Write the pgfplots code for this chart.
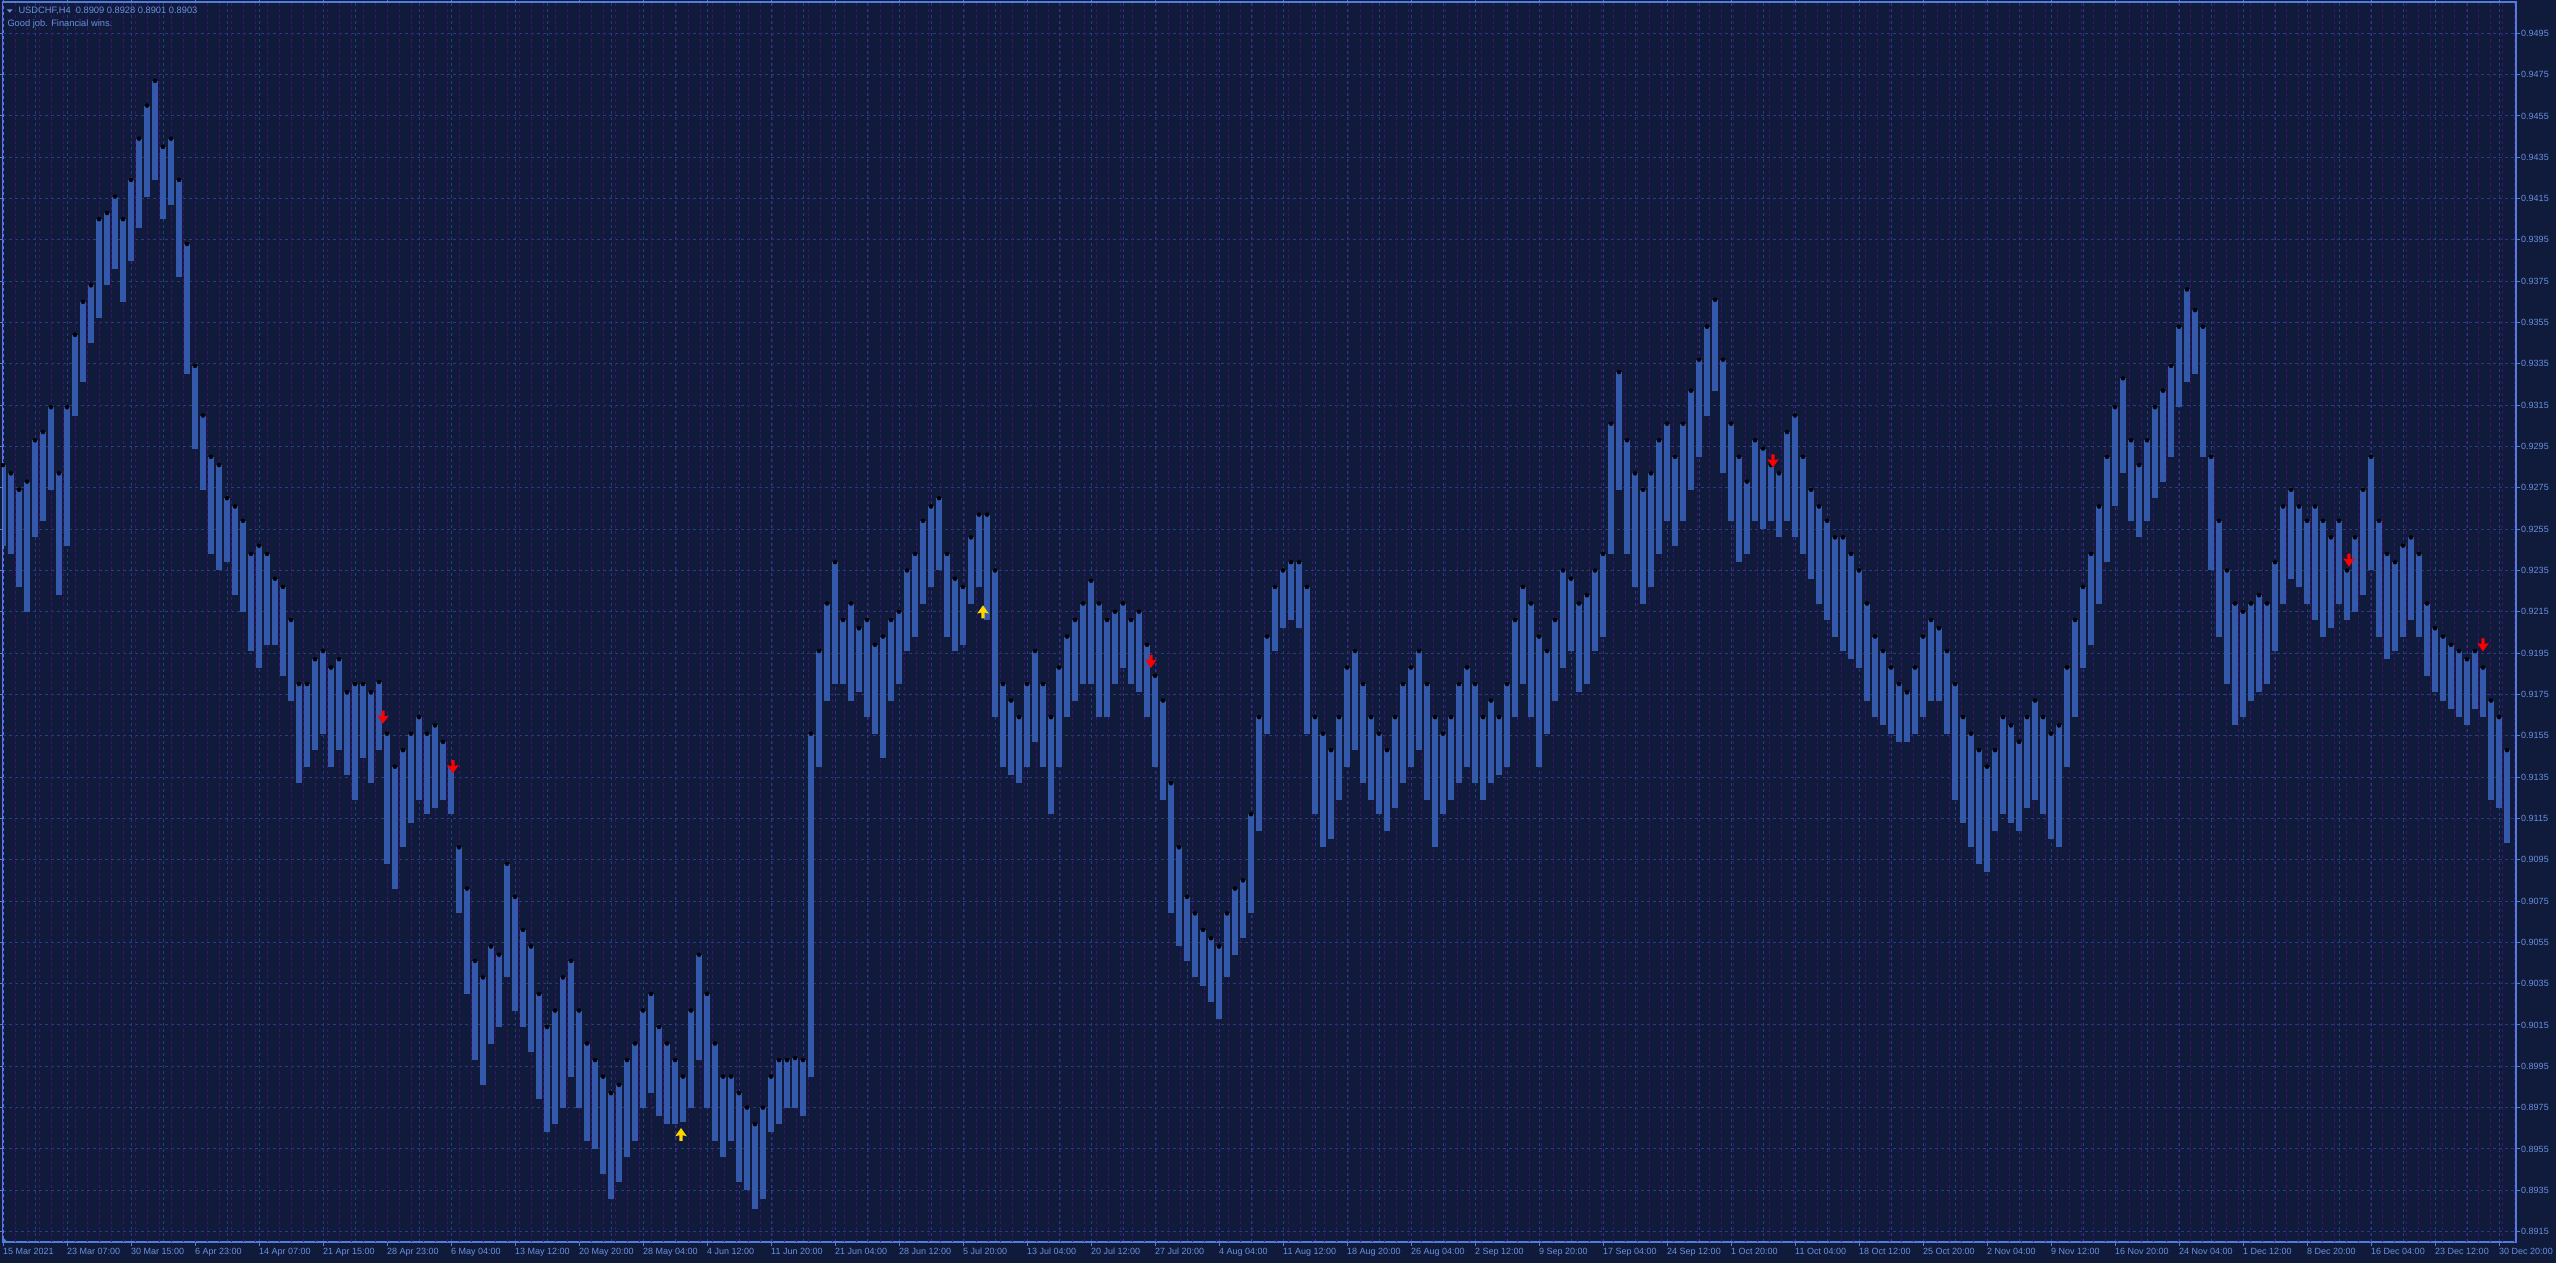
\documentclass[border=0pt]{standalone}
\usepackage{fontspec}
\setmainfont{Liberation Sans}
\usepackage{pgfplots}
\usepackage{pgfplotstable}
\pgfplotsset{compat=1.18}
\definecolor{bg}{RGB}{16,26,58}
\definecolor{gridblue}{RGB}{38,62,125}
\definecolor{gridpurple}{RGB}{72,14,118}
\definecolor{border}{RGB}{80,125,215}
\definecolor{txt}{RGB}{105,145,225}
\definecolor{barcol}{RGB}{52,88,170}
\definecolor{arrowred}{RGB}{255,0,0}
\definecolor{arrowyel}{RGB}{255,215,0}
\pgfdeclareplotmark{mtdown}{%
\pgfpathmoveto{\pgfqpoint{-1.7pt}{6.5pt}}%
\pgfpathlineto{\pgfqpoint{1.7pt}{6.5pt}}%
\pgfpathlineto{\pgfqpoint{1.7pt}{0.8pt}}%
\pgfpathlineto{\pgfqpoint{5.8pt}{1.8pt}}%
\pgfpathlineto{\pgfqpoint{0pt}{-6.5pt}}%
\pgfpathlineto{\pgfqpoint{-5.8pt}{1.8pt}}%
\pgfpathlineto{\pgfqpoint{-1.7pt}{0.8pt}}%
\pgfpathclose\pgfusepathqfill}
\pgfdeclareplotmark{mtup}{%
\pgfpathmoveto{\pgfqpoint{-1.7pt}{-6.5pt}}%
\pgfpathlineto{\pgfqpoint{1.7pt}{-6.5pt}}%
\pgfpathlineto{\pgfqpoint{1.7pt}{-0.8pt}}%
\pgfpathlineto{\pgfqpoint{5.8pt}{-1.8pt}}%
\pgfpathlineto{\pgfqpoint{0pt}{6.5pt}}%
\pgfpathlineto{\pgfqpoint{-5.8pt}{-1.8pt}}%
\pgfpathlineto{\pgfqpoint{-1.7pt}{-0.8pt}}%
\pgfpathclose\pgfusepathqfill}
\pgfplotstableread{
b hi lo
0 0.9286 0.9247
4 0.9282 0.9243
8 0.9274 0.9227
12 0.9278 0.9215
16 0.9298 0.9251
20 0.9302 0.9259
24 0.9314 0.9274
28 0.9282 0.9223
32 0.9314 0.9247
36 0.9349 0.9310
40 0.9365 0.9326
44 0.9373 0.9345
48 0.9405 0.9357
52 0.9408 0.9373
56 0.9416 0.9381
60 0.9405 0.9365
64 0.9424 0.9385
68 0.9444 0.9401
72 0.9460 0.9416
76 0.9472 0.9424
80 0.9440 0.9405
84 0.9444 0.9412
88 0.9424 0.9377
92 0.9393 0.9330
96 0.9334 0.9294
100 0.9310 0.9274
104 0.9290 0.9243
108 0.9286 0.9235
112 0.9270 0.9239
116 0.9266 0.9223
120 0.9259 0.9215
124 0.9243 0.9196
128 0.9247 0.9188
132 0.9243 0.9199
136 0.9231 0.9199
140 0.9227 0.9184
144 0.9211 0.9172
148 0.9180 0.9132
152 0.9180 0.9140
156 0.9192 0.9148
160 0.9196 0.9156
164 0.9188 0.9140
168 0.9192 0.9148
172 0.9176 0.9136
176 0.9180 0.9124
180 0.9180 0.9144
184 0.9176 0.9132
188 0.9181 0.9148
192 0.9156 0.9093
196 0.9140 0.9081
200 0.9148 0.9101
204 0.9156 0.9113
208 0.9164 0.9124
212 0.9156 0.9117
216 0.9160 0.9120
220 0.9152 0.9124
224 0.9140 0.9117
228 0.9101 0.9069
232 0.9081 0.9030
236 0.9046 0.8998
240 0.9038 0.8986
244 0.9053 0.9006
248 0.9049 0.9014
252 0.9093 0.9038
256 0.9077 0.9022
260 0.9061 0.9014
264 0.9053 0.9002
268 0.9030 0.8979
272 0.9014 0.8963
276 0.9022 0.8967
280 0.9038 0.8975
284 0.9046 0.8990
288 0.9022 0.8975
292 0.9006 0.8959
296 0.8998 0.8955
300 0.8990 0.8943
304 0.8982 0.8931
308 0.8986 0.8939
312 0.8998 0.8951
316 0.9006 0.8959
320 0.9022 0.8975
324 0.9030 0.8982
328 0.9014 0.8971
332 0.9006 0.8967
336 0.8998 0.8967
340 0.8990 0.8968
344 0.9022 0.8975
348 0.9049 0.8998
352 0.9030 0.8975
356 0.9006 0.8959
360 0.8990 0.8951
364 0.8990 0.8959
368 0.8982 0.8939
372 0.8975 0.8935
376 0.8967 0.8926
380 0.8975 0.8931
384 0.8990 0.8963
388 0.8998 0.8967
392 0.8998 0.8975
396 0.8999 0.8975
400 0.8998 0.8971
404 0.9156 0.8990
408 0.9196 0.9140
412 0.9219 0.9172
416 0.9239 0.9180
420 0.9211 0.9180
424 0.9219 0.9172
428 0.9207 0.9176
432 0.9211 0.9164
436 0.9199 0.9156
440 0.9203 0.9144
444 0.9211 0.9172
448 0.9215 0.9180
452 0.9235 0.9196
456 0.9243 0.9203
460 0.9259 0.9219
464 0.9266 0.9227
468 0.9270 0.9235
472 0.9243 0.9203
476 0.9231 0.9196
480 0.9227 0.9199
484 0.9251 0.9219
488 0.9262 0.9227
492 0.9262 0.9211
496 0.9235 0.9164
500 0.9180 0.9140
504 0.9172 0.9136
508 0.9164 0.9132
512 0.9180 0.9140
516 0.9196 0.9152
520 0.9180 0.9140
524 0.9164 0.9117
528 0.9188 0.9140
532 0.9203 0.9164
536 0.9211 0.9172
540 0.9219 0.9180
544 0.9230 0.9180
548 0.9219 0.9164
552 0.9211 0.9164
556 0.9215 0.9180
560 0.9219 0.9188
564 0.9211 0.9180
568 0.9215 0.9176
572 0.9199 0.9164
576 0.9184 0.9140
580 0.9172 0.9124
584 0.9132 0.9069
588 0.9101 0.9053
592 0.9077 0.9046
596 0.9069 0.9038
600 0.9061 0.9034
604 0.9057 0.9026
608 0.9053 0.9018
612 0.9069 0.9038
616 0.9081 0.9049
620 0.9085 0.9057
624 0.9117 0.9069
628 0.9164 0.9109
632 0.9203 0.9156
636 0.9227 0.9196
640 0.9235 0.9207
644 0.9239 0.9211
648 0.9239 0.9207
652 0.9227 0.9156
656 0.9164 0.9117
660 0.9156 0.9101
664 0.9148 0.9105
668 0.9164 0.9124
672 0.9188 0.9140
676 0.9196 0.9148
680 0.9180 0.9132
684 0.9164 0.9124
688 0.9156 0.9117
692 0.9148 0.9109
696 0.9164 0.9120
700 0.9180 0.9132
704 0.9188 0.9140
708 0.9196 0.9148
712 0.9180 0.9124
716 0.9164 0.9101
720 0.9156 0.9117
724 0.9164 0.9124
728 0.9180 0.9132
732 0.9188 0.9140
736 0.9180 0.9132
740 0.9164 0.9124
744 0.9172 0.9132
748 0.9164 0.9136
752 0.9180 0.9140
756 0.9211 0.9164
760 0.9227 0.9180
764 0.9219 0.9164
768 0.9203 0.9140
772 0.9196 0.9156
776 0.9211 0.9172
780 0.9235 0.9188
784 0.9231 0.9196
788 0.9219 0.9176
792 0.9223 0.9180
796 0.9235 0.9196
800 0.9243 0.9203
804 0.9306 0.9243
808 0.9331 0.9274
812 0.9298 0.9243
816 0.9282 0.9227
820 0.9274 0.9219
824 0.9282 0.9227
828 0.9298 0.9243
832 0.9306 0.9259
836 0.9290 0.9247
840 0.9306 0.9259
844 0.9322 0.9274
848 0.9337 0.9290
852 0.9353 0.9310
856 0.9366 0.9322
860 0.9337 0.9282
864 0.9306 0.9259
868 0.9290 0.9239
872 0.9278 0.9243
876 0.9298 0.9259
880 0.9294 0.9255
884 0.9286 0.9259
888 0.9282 0.9251
892 0.9302 0.9259
896 0.9310 0.9251
900 0.9290 0.9243
904 0.9274 0.9231
908 0.9266 0.9219
912 0.9259 0.9211
916 0.9251 0.9203
920 0.9251 0.9196
924 0.9243 0.9192
928 0.9235 0.9188
932 0.9219 0.9172
936 0.9203 0.9164
940 0.9196 0.9160
944 0.9188 0.9156
948 0.9180 0.9152
952 0.9176 0.9152
956 0.9188 0.9156
960 0.9203 0.9164
964 0.9211 0.9172
968 0.9207 0.9172
972 0.9196 0.9156
976 0.9180 0.9124
980 0.9164 0.9113
984 0.9156 0.9101
988 0.9148 0.9093
992 0.9140 0.9089
996 0.9148 0.9109
1000 0.9164 0.9117
1004 0.9160 0.9113
1008 0.9152 0.9109
1012 0.9164 0.9120
1016 0.9172 0.9124
1020 0.9164 0.9117
1024 0.9156 0.9105
1028 0.9160 0.9101
1032 0.9188 0.9140
1036 0.9211 0.9164
1040 0.9227 0.9188
1044 0.9243 0.9199
1048 0.9266 0.9219
1052 0.9290 0.9239
1056 0.9314 0.9266
1060 0.9328 0.9282
1064 0.9298 0.9259
1068 0.9286 0.9251
1072 0.9298 0.9259
1076 0.9314 0.9270
1080 0.9322 0.9278
1084 0.9334 0.9290
1088 0.9353 0.9314
1092 0.9371 0.9326
1096 0.9361 0.9330
1100 0.9353 0.9290
1104 0.9290 0.9235
1108 0.9259 0.9203
1112 0.9235 0.9180
1116 0.9219 0.9160
1120 0.9215 0.9164
1124 0.9219 0.9172
1128 0.9223 0.9176
1132 0.9219 0.9180
1136 0.9239 0.9196
1140 0.9266 0.9219
1144 0.9274 0.9231
1148 0.9266 0.9227
1152 0.9259 0.9219
1156 0.9266 0.9211
1160 0.9259 0.9203
1164 0.9251 0.9207
1168 0.9259 0.9219
1172 0.9235 0.9211
1176 0.9251 0.9215
1180 0.9274 0.9223
1184 0.9290 0.9235
1188 0.9259 0.9203
1192 0.9243 0.9192
1196 0.9239 0.9196
1200 0.9247 0.9203
1204 0.9251 0.9211
1208 0.9243 0.9203
1212 0.9219 0.9184
1216 0.9207 0.9176
1220 0.9203 0.9172
1224 0.9199 0.9168
1228 0.9196 0.9164
1232 0.9192 0.9160
1236 0.9196 0.9168
1240 0.9188 0.9164
1244 0.9172 0.9124
1248 0.9164 0.9120
1252 0.9148 0.9103
}\bars
\begin{document}
\begin{tikzpicture}
\useasboundingbox (-3pt,-21pt) rectangle (2553pt,1242pt);
\fill[bg] (-3pt,-21pt) rectangle (2553pt,1242pt);
\begin{axis}[
  at={(0pt,0pt)}, anchor=south west,
  scale only axis, width=2513pt, height=1240pt,
  xmin=0, xmax=1256.5, ymin=0.890996, ymax=0.951015,
  axis line style={draw=border, line width=1.2pt},
  xtick={0,32,...,1248},
  xticklabels={15 Mar 2021,23 Mar 07:00,30 Mar 15:00,6 Apr 23:00,14 Apr 07:00,21 Apr 15:00,28 Apr 23:00,6 May 04:00,13 May 12:00,20 May 20:00,28 May 04:00,4 Jun 12:00,11 Jun 20:00,21 Jun 04:00,28 Jun 12:00,5 Jul 20:00,13 Jul 04:00,20 Jul 12:00,27 Jul 20:00,4 Aug 04:00,11 Aug 12:00,18 Aug 20:00,26 Aug 04:00,2 Sep 12:00,9 Sep 20:00,17 Sep 04:00,24 Sep 12:00,1 Oct 20:00,11 Oct 04:00,18 Oct 12:00,25 Oct 20:00,2 Nov 04:00,9 Nov 12:00,16 Nov 20:00,24 Nov 04:00,1 Dec 12:00,8 Dec 20:00,16 Dec 04:00,23 Dec 12:00,30 Dec 20:00},
  minor x tick num=1,
  ytick={0.8915,0.8935,0.8955,0.8975,0.8995,0.9015,0.9035,0.9055,0.9075,0.9095,0.9115,0.9135,0.9155,0.9175,0.9195,0.9215,0.9235,0.9255,0.9275,0.9295,0.9315,0.9335,0.9355,0.9375,0.9395,0.9415,0.9435,0.9455,0.9475,0.9495},
  yticklabels={0.8915,0.8935,0.8955,0.8975,0.8995,0.9015,0.9035,0.9055,0.9075,0.9095,0.9115,0.9135,0.9155,0.9175,0.9195,0.9215,0.9235,0.9255,0.9275,0.9295,0.9315,0.9335,0.9355,0.9375,0.9395,0.9415,0.9435,0.9455,0.9475,0.9495},
  yticklabel pos=right,
  tick align=outside, major tick length=4pt, minor tick length=0pt,
  tick style={draw=border, line width=1pt},
  xmajorgrids, xminorgrids, ymajorgrids,
  major grid style={draw=gridblue, line width=1pt, dash pattern=on 3pt off 3pt},
  minor grid style={draw=gridblue, line width=1pt, dash pattern=on 3pt off 3pt},
  extra x ticks={0.05,6.058,...,1256},
  extra x tick labels={},
  extra x tick style={grid=major, major grid style={draw=gridpurple, line width=1pt, dash pattern=on 3pt off 3pt}, major tick length=0pt},
  ticklabel style={font=\fontsize{9}{10}\selectfont, text=txt},
  xticklabel style={anchor=north west, inner sep=0pt, xshift=0pt, yshift=-2pt},
  yticklabel style={anchor=west, inner sep=0pt, xshift=1pt},
]
\addplot[only marks, mark=none, forget plot,
  error bars/.cd, y dir=minus, y explicit, error mark=none,
  error bar style={line width=5.5pt, draw=barcol, solid}]
  table[x=b, y=hi, y error minus expr=\thisrow{hi}-\thisrow{lo}] {\bars};
\addplot[only marks, mark=mtdown, mark options={draw=none, fill=arrowred}] coordinates {
(190,0.9164) (225,0.9140) (574,0.9191) (885,0.9288) (1173,0.9240) (1240,0.9199)};
\addplot[only marks, mark=mtup, mark options={draw=none, fill=arrowyel}] coordinates {
(339,0.8962) (490,0.9215)};
\end{axis}
\fill[border] (0pt,0pt) -- (4.5pt,0pt) -- (0pt,4.5pt) -- cycle;
\fill[txt] (3.7pt,1232.7pt) -- (9.7pt,1232.7pt) -- (6.7pt,1229.3pt) -- cycle;
\node[anchor=base west, inner sep=0pt, text=txt, font=\fontsize{9.3}{11}\selectfont] at (15.3pt,1228.3pt) {USDCHF,H4\ \ 0.8909 0.8928 0.8901 0.8903};
\node[anchor=base west, inner sep=0pt, text=txt, font=\fontsize{9.3}{11}\selectfont] at (4.3pt,1215.3pt) {Good job. Financial wins.};
\end{tikzpicture}
\end{document}
